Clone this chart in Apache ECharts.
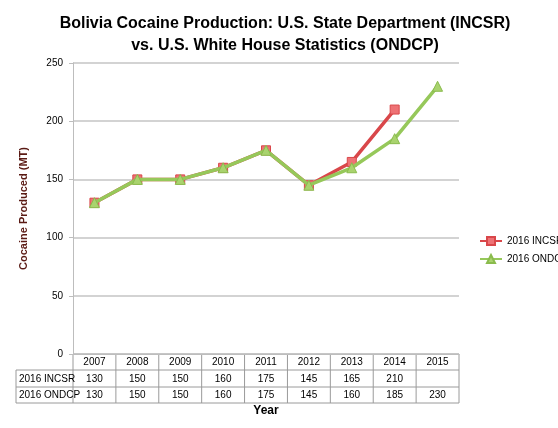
<!DOCTYPE html>
<html><head><meta charset="utf-8">
<script src="https://cdn.jsdelivr.net/npm/echarts@6/dist/echarts.min.js"></script>
<style>html,body{margin:0;padding:0;background:#fff}#c{width:558px;height:428px}</style>
</head><body><div id="c"></div>
<script>
const years = ["2007","2008","2009","2010","2011","2012","2013","2014","2015"];
const incsr = [130,150,150,160,175,145,165,210,null];
const ondcp = [130,150,150,160,175,145,160,185,230];
const seriesNames = ["2016 INCSR","2016 ONDCP"];

const chart = echarts.init(document.getElementById("c"));
const L = 73, R = 459, T = 63, B = 354;
const font = "Liberation Sans Narrow, Liberation Sans, Arial, sans-serif";

// data table under the plot
const colW = (R - L) / years.length;
const rows = [B, 370, 387, 403];
const g = [];
const line = (x1, y1, x2, y2) => g.push({type: "line", shape: {x1, y1, x2, y2}, style: {stroke: "#9a9a9a", lineWidth: 1}});
line(L, rows[0], R, rows[0]);
for (let i = 1; i < rows.length; i++) line(16, rows[i], R, rows[i]);
line(16, rows[1], 16, rows[3]);
for (let i = 0; i <= years.length; i++) line(L + i * colW, rows[0], L + i * colW, rows[3]);
const txt = (x, y, text, align) => g.push({type: "text", x, y, style: {text, fill: "#000", font: "10px " + font, align: align || "center", verticalAlign: "middle"}});
years.forEach((y, i) => {
  const cx = L + (i + 0.5) * colW;
  txt(cx, 362, y);
  if (incsr[i] != null) txt(cx, 379, String(incsr[i]));
  txt(cx, 395, String(ondcp[i]));
});
txt(19, 379, seriesNames[0], "left");
txt(19, 395, seriesNames[1], "left");
g.push({type: "text", x: 266, y: 411, style: {text: "Year", fill: "#000", font: "bold 12px " + font, align: "center", verticalAlign: "middle"}});

chart.setOption({
  animation: false,
  title: {
    text: "Bolivia Cocaine Production: U.S. State Department (INCSR)\nvs. U.S. White House Statistics (ONDCP)",
    left: 280, top: 8, textAlign: "center",
    textStyle: {fontFamily: font, fontSize: 16, fontWeight: "bold", color: "#000", lineHeight: 22}
  },
  legend: {
    orient: "vertical", left: 474, top: 231, itemGap: 8, itemWidth: 22, itemHeight: 10,
    textStyle: {fontFamily: font, fontSize: 10, color: "#000"},
    data: seriesNames
  },
  grid: {left: L, right: 558 - R, top: T, bottom: 428 - B},
  xAxis: {
    type: "category", data: years, boundaryGap: true,
    axisLine: {lineStyle: {color: "#bdbdbd"}}, axisTick: {show: false}, axisLabel: {show: false}
  },
  yAxis: {
    type: "value", min: 0, max: 250, interval: 50,
    name: "Cocaine Produced (MT)", nameLocation: "middle", nameGap: 44, nameRotate: 90,
    nameTextStyle: {fontFamily: font, fontSize: 11, fontWeight: "bold", color: "#5a1a14"},
    axisLine: {show: true, lineStyle: {color: "#bdbdbd"}}, axisTick: {show: true, length: 4},
    axisLabel: {fontFamily: font, fontSize: 10, color: "#000", margin: 10},
    splitLine: {lineStyle: {color: "#c4c4c4", width: 1.5}}
  },
  series: [
    {name: seriesNames[0], type: "line", data: incsr, symbol: "rect", symbolSize: 9,
     lineStyle: {color: "#d9474a", width: 3.5}, itemStyle: {color: "#ee7275", borderColor: "#d9474a", borderWidth: 1}, z: 2},
    {name: seriesNames[1], type: "line", data: ondcp, symbol: "triangle", symbolSize: 10,
     lineStyle: {color: "#96c85a", width: 3.5}, itemStyle: {color: "#a9d36e", borderColor: "#8abb4d", borderWidth: 1}, z: 3}
  ],
  graphic: g
});
</script></body></html>
